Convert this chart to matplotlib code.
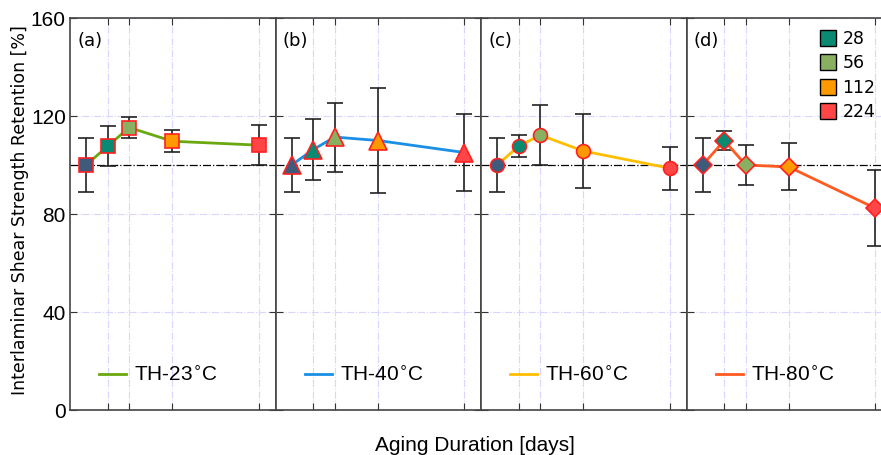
import matplotlib.pyplot as plt
from matplotlib.lines import Line2D

days = [0, 28, 56, 112, 224]
xticks = [28, 56, 112, 224]
yticks = [0, 40, 80, 120, 160]

ilss_23 = [100, 107.7, 115.3, 109.7, 108.1]
err_23 = [11.1, 8.2, 4.1, 4.5, 8.3]
ilss_40 = [100, 106.3, 111.4, 110.0, 105.1]
err_40 = [11.1, 12.5, 14.1, 21.6, 15.6]
ilss_60 = [100, 107.7, 112.2, 105.7, 98.7]
err_60 = [11.1, 4.5, 12.2, 15.2, 8.8]
ilss_80 = [100, 110.0, 100.0, 99.2, 82.4]
err_80 = [11.1, 3.9, 8.2, 9.6, 15.5]

series = [ilss_23, ilss_40, ilss_60, ilss_80]
errors = [err_23, err_40, err_60, err_80]
names = ['TH-23$^{\\circ}$C', 'TH-40$^{\\circ}$C', 'TH-60$^{\\circ}$C', 'TH-80$^{\\circ}$C']
panel_tags = ['(a)', '(b)', '(c)', '(d)']
line_colors = ['#6aa80f', '#1a8fe6', '#ffbf00', '#ff5a1f']
markers = ['s', '^', 'o', 'D']
msizes = [10, 13, 10, 9]
point_colors = ['#3f5b7c', '#0a8a72', '#88b060', '#ff9900', '#ff4545']
legend_days = ['28', '56', '112', '224']

narrow = ['Liberation Sans', 'DejaVu Sans']

fig = plt.figure(figsize=(8.81, 4.55), dpi=100)
x0 = 70 / 881
w = 205.5 / 881
y0 = 1 - 410 / 455
h = 392 / 455

for i in range(4):
    ax = fig.add_axes([x0 + i * w, y0, w, h])
    ax.set_xlim(-21, 246)
    ax.set_ylim(0, 160)
    ax.set_xticks(xticks)
    ax.set_yticks(yticks)
    ax.grid(True, color='#d6d6ff', ls='-.', lw=0.8)
    ax.axhline(100, color='black', ls='-.', lw=0.9, zorder=2)
    ax.errorbar(days, series[i], yerr=errors[i], fmt='none', ecolor='#222222',
                elinewidth=1.2, capsize=6, capthick=1.2, zorder=3)
    ax.plot(days, series[i], color=line_colors[i], lw=2, zorder=4,
            label=names[i])
    for d, v, c in zip(days, series[i], point_colors):
        ax.plot(d, v, marker=markers[i], ms=msizes[i], mfc=c, mec='#ff2020',
                mew=1.2, ls='none', zorder=5)
    ax.tick_params(axis='both', direction='in', length=5, top=True, right=True,
                   labelbottom=False, color='#333333')
    if i == 0:
        ax.tick_params(axis='y', labelsize=15, pad=3)
        for t in ax.get_yticklabels():
            t.set_family(narrow)
        ax.set_ylabel('Interlaminar Shear Strength Retention [%]', fontsize=12.5)
        ax.yaxis.set_label_coords(-0.2, 0.51)
    else:
        ax.tick_params(axis='y', labelleft=False)
    for s in ax.spines.values():
        s.set_color('#444444')
        s.set_linewidth(1.2)
    ax.text(0.035, 0.965, panel_tags[i], transform=ax.transAxes, fontsize=13,
            va='top', ha='left')
    leg = ax.legend(loc='center left', bbox_to_anchor=(0.05, 0.088),
                    frameon=False, handlelength=1.3, handletextpad=0.4,
                    prop={'family': narrow, 'size': 15})
    if i == 3:
        handles = [Line2D([], [], marker='s', ls='none', ms=11, mfc=c,
                          mec='black', mew=1.0) for c in point_colors[1:]]
        leg2 = ax.legend(handles, legend_days, loc='upper left',
                         bbox_to_anchor=(0.56, 1.01), frameon=False,
                         fontsize=12.5, handletextpad=0.25, labelspacing=0.38,
                         handlelength=1.2)
        ax.add_artist(leg)

fig.text(475 / 881, 0.0, 'Aging Duration [days]', ha='center', va='bottom',
         fontsize=15, family=narrow)

fig.savefig('out.png', dpi=100)
